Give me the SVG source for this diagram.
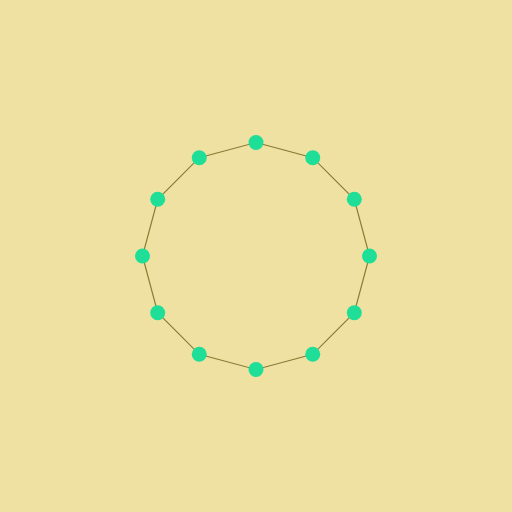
<svg xmlns="http://www.w3.org/2000/svg" width="512" height="512" viewBox="0 0 512 512">
<style>
.n{fill:#1ede98}
.e{stroke:#8a7a32;stroke-width:1.2;fill:none}
</style>
<rect width="512" height="512" fill="#efe1a2"/>
<g id="connectors">
<polygon class="e" points="256,142.5 312.75,157.7 354.3,199.25 369.5,256 354.3,312.75 312.75,354.3 256,369.5 199.25,354.3 157.7,312.75 142.5,256 157.7,199.25 199.25,157.7"/>
</g>
<g id="n0"><circle class="n" cx="256" cy="142.5" r="7.5"/></g>
<g id="n1"><circle class="n" cx="312.75" cy="157.7" r="7.5"/></g>
<g id="n2"><circle class="n" cx="354.3" cy="199.25" r="7.5"/></g>
<g id="n3"><circle class="n" cx="369.5" cy="256" r="7.5"/></g>
<g id="n4"><circle class="n" cx="354.3" cy="312.75" r="7.5"/></g>
<g id="n5"><circle class="n" cx="312.75" cy="354.3" r="7.5"/></g>
<g id="n6"><circle class="n" cx="256" cy="369.5" r="7.5"/></g>
<g id="n7"><circle class="n" cx="199.25" cy="354.3" r="7.5"/></g>
<g id="n8"><circle class="n" cx="157.7" cy="312.75" r="7.5"/></g>
<g id="n9"><circle class="n" cx="142.5" cy="256" r="7.5"/></g>
<g id="n10"><circle class="n" cx="157.7" cy="199.25" r="7.5"/></g>
<g id="n11"><circle class="n" cx="199.25" cy="157.7" r="7.5"/></g>
</svg>
